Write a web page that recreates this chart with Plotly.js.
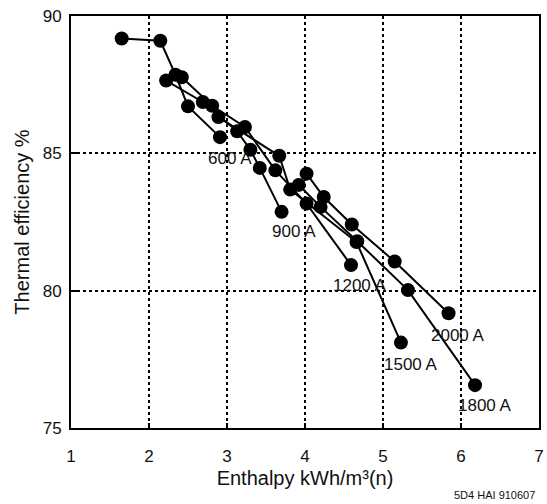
<!DOCTYPE html>
<html>
<head>
<meta charset="utf-8">
<script src="https://cdn.plot.ly/plotly-3.0.1.min.js"></script>
<style>
  html, body { margin: 0; padding: 0; background: #fff; }
  #chart { width: 547px; height: 504px; }
</style>
</head>
<body>
<div id="chart"></div>
<script>
// Series data: enthalpy (kWh/m3(n)) vs thermal efficiency (%)
const series = ["600 A", "900 A", "1200 A", "1500 A", "1800 A", "2000 A"];

const x600 = [1.65, 2.145, 2.34, 2.50, 2.91];
const y600 = [89.18, 89.10, 87.86, 86.71, 85.59];

const x900 = [2.22, 2.69, 3.13, 3.30, 3.42, 3.70];
const y900 = [87.65, 86.87, 85.80, 85.13, 84.47, 82.87];

const x1200 = [2.42, 2.81, 3.23, 3.62, 4.02, 4.59];
const y1200 = [87.77, 86.73, 85.96, 84.38, 83.17, 80.93];

const x1500 = [2.89, 3.67, 3.81, 4.66, 5.23];
const y1500 = [86.32, 84.91, 83.68, 81.77, 78.11];

const x1800 = [3.92, 4.20, 4.67, 5.32, 6.18];
const y1800 = [83.85, 83.05, 81.80, 80.02, 76.56];

const x2000 = [4.02, 4.24, 4.60, 5.15, 5.84];
const y2000 = [84.26, 83.41, 82.41, 81.06, 79.18];

// Label anchor positions (data units)
const labelX = [3.04, 3.86, 4.71, 5.36, 6.31, 5.96];
const labelY = [84.81, 82.16, 80.19, 77.32, 75.83, 78.38];

const xTicks = [1, 2, 3, 4, 5, 6, 7];
const yTicks = [75, 80, 85, 90];

const xs = [x600, x900, x1200, x1500, x1800, x2000];
const ys = [y600, y900, y1200, y1500, y1800, y2000];

const FONT = "Arial, 'Liberation Sans', Helvetica, sans-serif";

const traces = series.map((name, i) => ({
  type: "scatter",
  mode: "lines+markers",
  name: name,
  x: xs[i],
  y: ys[i],
  line: { color: "#000", width: 2 },
  marker: { color: "#000", size: 14, symbol: "circle" },
  showlegend: false,
  hoverinfo: "x+y+name"
}));

const annotations = series.map((name, i) => ({
  x: labelX[i], y: labelY[i], xref: "x", yref: "y",
  text: name, showarrow: false,
  xanchor: "center", yanchor: "middle",
  font: { family: FONT, size: 17, color: "#111" }
}));

annotations.push({
  x: 0.905, y: -0.163, xref: "paper", yref: "paper",
  text: "5D4 HAI 910607", showarrow: false,
  xanchor: "center", yanchor: "middle",
  font: { family: FONT, size: 11, color: "#111" }
});

const layout = {
  width: 547, height: 504,
  margin: { l: 71, r: 8, t: 16, b: 76, pad: 0 },
  paper_bgcolor: "#fff",
  plot_bgcolor: "#fff",
  font: { family: FONT, size: 17, color: "#111" },
  showlegend: false,
  xaxis: {
    range: [1, 7],
    tickvals: xTicks,
    ticktext: xTicks.map(String),
    ticks: "inside", ticklen: 5, tickwidth: 2, tickcolor: "#000",
    showline: true, linecolor: "#000", linewidth: 2, mirror: true,
    showgrid: true, gridcolor: "#000", gridwidth: 2, griddash: "dot",
    zeroline: false,
    ticklabelstandoff: 12,
    tickfont: { family: FONT, size: 17, color: "#111" },
    title: { text: "Enthalpy kWh/m³(n)", font: { family: FONT, size: 20, color: "#111" }, standoff: 6 }
  },
  yaxis: {
    range: [75, 90],
    tickvals: yTicks,
    ticktext: yTicks.map(String),
    ticks: "inside", ticklen: 8, tickwidth: 2, tickcolor: "#000",
    showline: true, linecolor: "#000", linewidth: 2, mirror: true,
    showgrid: true, gridcolor: "#000", gridwidth: 2, griddash: "dot",
    zeroline: false,
    ticklabelstandoff: 4,
    tickfont: { family: FONT, size: 17, color: "#111" },
    title: { text: "Thermal efficiency %", font: { family: FONT, size: 20, color: "#111" }, standoff: 8 }
  },
  annotations: annotations
};

Plotly.newPlot("chart", traces, layout, { displayModeBar: false, staticPlot: true });
</script>
</body>
</html>
